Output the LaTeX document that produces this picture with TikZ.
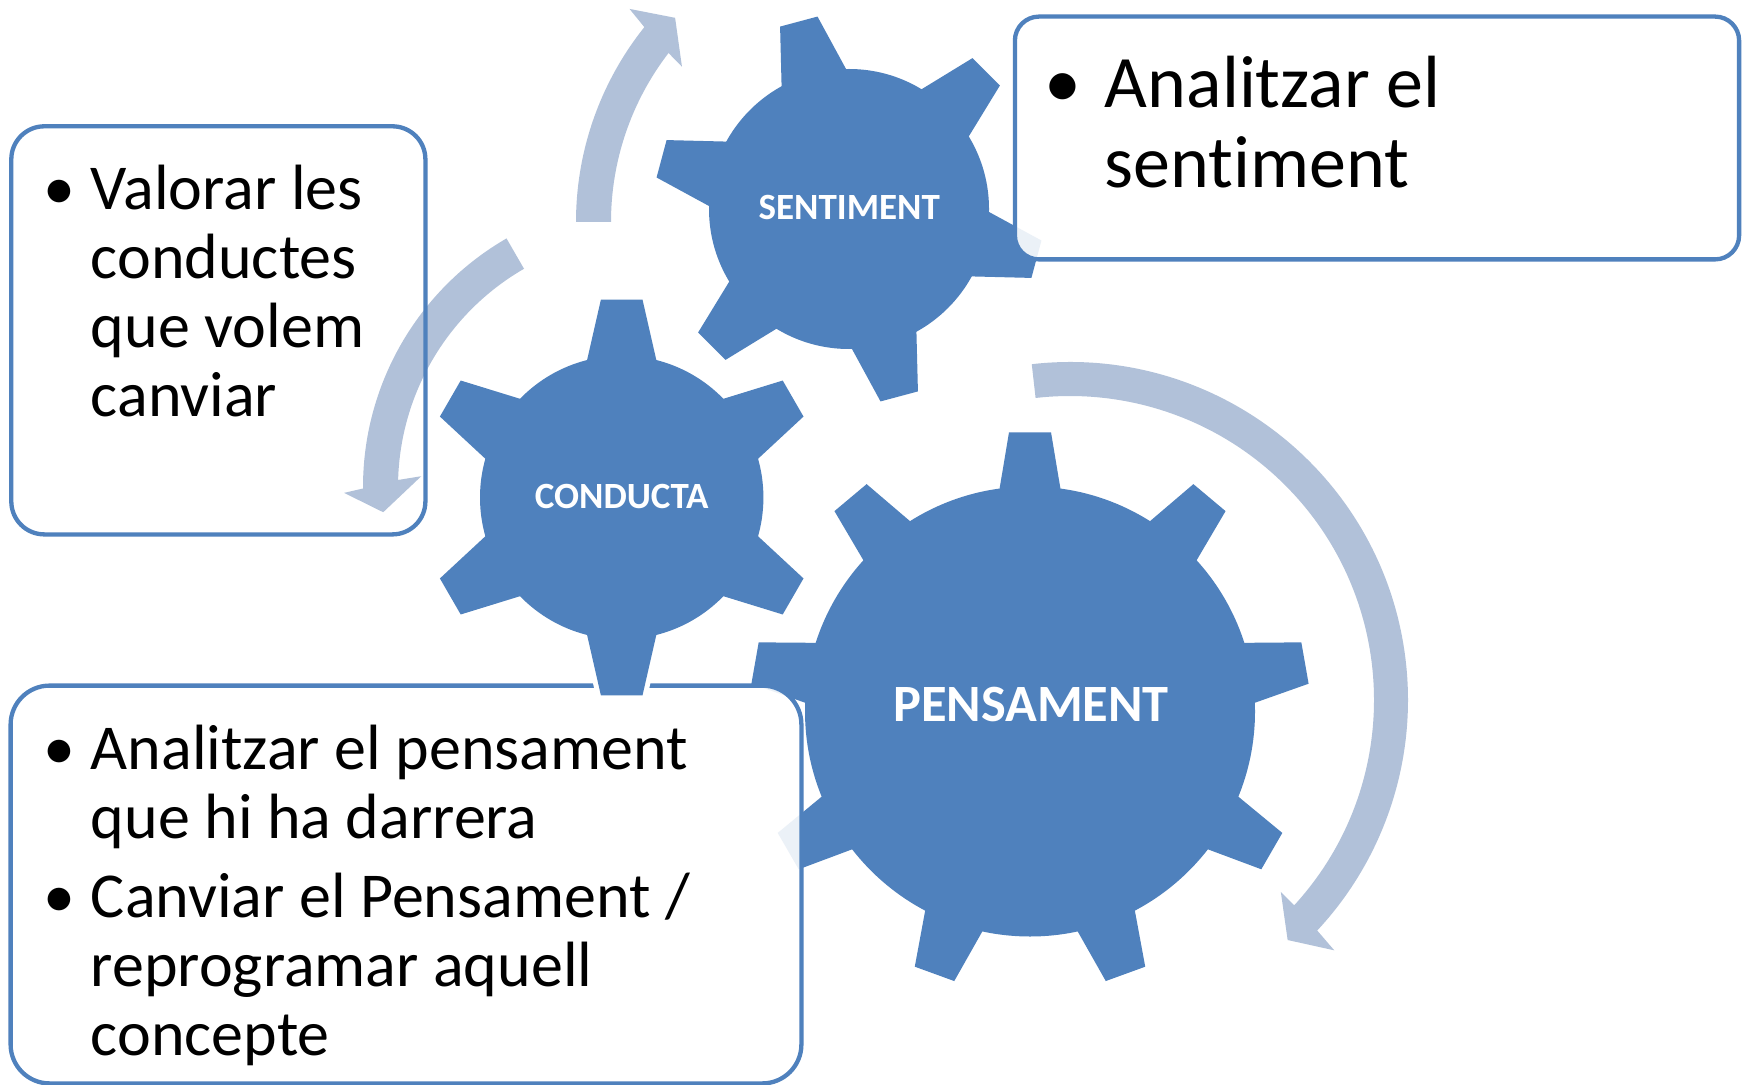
\documentclass[tikz,border=0pt]{standalone}
\usepackage{fontspec}
\setmainfont{Carlito}[RawFeature={-liga;-clig;-calt;-dlig}]
\usepackage{tikz}
\usetikzlibrary{calc, positioning}

\definecolor{gearblue}{HTML}{4F81BD}
\definecolor{bandblue}{HTML}{B1C1D9}
\definecolor{lineblue}{HTML}{4F81BD}

\begin{document}
\begin{tikzpicture}[x=0.5pt, y=-0.5pt,
    gear/.style={fill=gearblue},
    halo/.style={draw=white, fill=white, line width=5pt},
    band/.style={fill=bandblue},
    boxfill/.style={fill=white, fill opacity=0.89, inner sep=0pt},
    boxline/.style={draw=lineblue, line width=2.15pt},
    gearlbl/.style={anchor=base, inner sep=0pt, text=white, font=\bfseries\fontsize{18.5pt}{22pt}\selectfont},
    itemtxt/.style={anchor=base west, inner sep=0pt, font=\fontsize{32pt}{34.5pt}\selectfont},
    dot/.style={anchor=base, inner sep=0pt, font=\fontsize{32pt}{34.5pt}\selectfont}]
    \fill[white] (0,0) rectangle (1748,1085);
    \useasboundingbox (0,0) rectangle (1748,1085);
    % 齿轮 PENSAMENT
    \begin{scope}[shift={(1030,711.5)}]
        \fill[gear] (0,0) circle[radius=225];
        \foreach \a in {30,70,...,350}
            \fill[gear] ({\a-7.85}:224) -- ({\a-4.3}:280) -- ({\a+4.3}:280) -- ({\a+7.85}:224) -- cycle;
    \end{scope}
    % 齿轮 SENTIMENT
    \begin{scope}[shift={(849,209)}]
        \fill[gear] (0,0) circle[radius=140];
        \foreach \a in {15,75,...,315}
            \fill[gear] ({\a-14}:139) -- ({\a-5.7}:195) -- ({\a+5.7}:195) -- ({\a+14}:139) -- cycle;
    \end{scope}
    % 文本框 (底色)
    \node[boxfill, rounded corners=16.5pt, minimum width=206.65pt, minimum height=203.65pt] (condbox) at (218.35,330.35) {};
    \node[boxfill, rounded corners=12pt, minimum width=361.7pt, minimum height=121pt] (sentbox) at (1377,138) {};
    \node[boxfill, rounded corners=19.5pt, minimum width=395pt, minimum height=198.5pt] (pensbox) at (406,884.5) {};
    % 箭头
    \begin{scope}[shift={(888,222)}]
        \fill[band] (180:312) arc[start angle=180, end angle=218.65, radius=312]
            -- (219.5:335) -- (223.8:295) -- (217:258) -- (217.6:277)
            arc[start angle=217.6, end angle=180, radius=277] -- cycle;
    \end{scope}
    \begin{scope}[shift={(650,487)}]
        \fill[band] (240:287) arc[start angle=240, end angle=179.7, radius=287]
            -- (178.9:306) -- (174.6:268) -- (182.7:229) -- (181.6:252)
            arc[start angle=181.6, end angle=240, radius=252] -- cycle;
    \end{scope}
    \begin{scope}[shift={(1070,700)}]
        \fill[band] (-96.5:338) arc[start angle=-96.5, end angle=43, radius=338]
            -- (43.45:364) -- (47.8:324) -- (42.3:285) -- (42.5:304)
            arc[start angle=42.5, end angle=-96.5, radius=304] -- cycle;
    \end{scope}
    % 文本框 (边框)
    \draw[boxline, rounded corners=16.5pt] (condbox.north west) rectangle (condbox.south east);
    \draw[boxline, rounded corners=12pt] (sentbox.north west) rectangle (sentbox.south east);
    \draw[boxline, rounded corners=19.5pt] (pensbox.north west) rectangle (pensbox.south east);
    % 齿轮 CONDUCTA
    \begin{scope}[shift={(621.7,497.5)}]
        \draw[halo] (0,0) circle[radius=141.7];
        \foreach \a in {30,90,...,330}
            \draw[halo] ({\a-14.5}:140) -- ({\a-6}:199) -- ({\a+6}:199) -- ({\a+14.5}:140) -- cycle;
        \fill[gear] (0,0) circle[radius=141.7];
        \foreach \a in {30,90,...,330}
            \fill[gear] ({\a-14.5}:140) -- ({\a-6}:199) -- ({\a+6}:199) -- ({\a+14.5}:140) -- cycle;
    \end{scope}
    % 标签
    \node[gearlbl] (sent) at (849.2,220) {SENTIMENT};
    \node[gearlbl] (cond) at (621.7,508.7) {CONDUCTA};
    \node[gearlbl, font=\bfseries\fontsize{26.2pt}{30pt}\selectfont] (pens) at (1031,721.5) {PENSAMENT};
    % 文本
    \node[dot] (conddot) at (59.3,209.3) {\textbullet};
    \node[itemtxt] (condtxt) at (90.5,209.3) {\parbox[t]{400pt}{\raggedright Valorar les\\conductes\\que volem\\canviar}};
    \node[dot, font=\fontsize{37pt}{40pt}\selectfont] (sentdot) at (1063.3,107.3) {\textbullet};
    \node[itemtxt, font=\fontsize{37pt}{40pt}\selectfont] (senttxt) at (1104.5,107.3) {\parbox[t]{400pt}{\raggedright Analitzar el\\sent\kern0pt iment}};
    \node[dot] (pensdota) at (59.3,769.3) {\textbullet};
    \node[itemtxt] (penstxta) at (90.5,769.3) {\parbox[t]{500pt}{\raggedright Analitzar el pensament\\que hi ha darrera}};
    \node[dot] (pensdotb) at (59.3,917.7) {\textbullet};
    \node[itemtxt] (penstxtb) at (90.5,917.7) {\parbox[t]{500pt}{\raggedright Canviar el Pensament /\\reprogramar aquell\\concepte}};
\end{tikzpicture}
\end{document}
